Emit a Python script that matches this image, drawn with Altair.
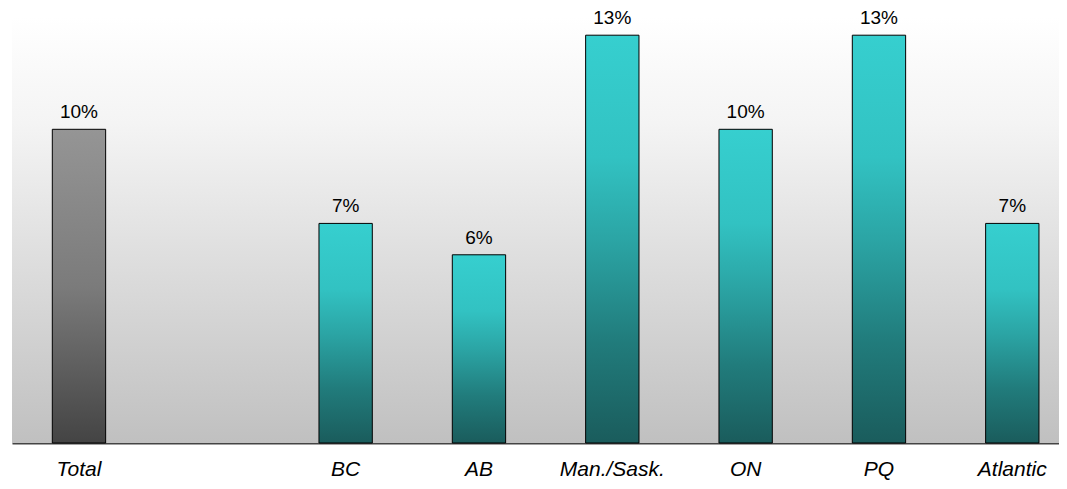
import altair as alt
import pandas as pd

categories = ["Total", "_gap", "BC", "AB", "Man./Sask.", "ON", "PQ", "Atlantic"]
bar_categories = ["Total", "BC", "AB", "Man./Sask.", "ON", "PQ", "Atlantic"]
values = [10, 7, 6, 13, 10, 13, 7]
labels = ["10%", "7%", "6%", "13%", "10%", "13%", "7%"]
kinds = ["total", "region", "region", "region", "region", "region", "region"]

df = pd.DataFrame({"cat": bar_categories, "value": values, "label": labels, "kind": kinds})

W = 1047
H = 426

x_scale = alt.Scale(domain=categories, paddingInner=0.6, paddingOuter=0.2263, align=0.668)
y_scale = alt.Scale(domain=[0, 13.58], nice=False)

x_enc = alt.X("cat:N", scale=x_scale, sort=categories,
              axis=alt.Axis(title=None, ticks=False, domain=True, domainColor="#444444",
                            domainWidth=2, labelAngle=0, labelFont="Liberation Sans",
                            labelFontStyle="italic", labelFontSize=21, labelColor="#000000",
                            labelBaseline="alphabetic", labelPadding=32,
                            labelExpr="indexof(datum.value, '_') == 0 ? '' : datum.value"))
y_enc = alt.Y("value:Q", scale=y_scale, axis=None)

bg_grad = alt.LinearGradient(gradient="linear", x1=0, x2=0, y1=0, y2=1,
                             stops=[alt.GradientStop(color="#FFFFFF", offset=0),
                                    alt.GradientStop(color="#F4F4F4", offset=0.25),
                                    alt.GradientStop(color="#C0C0C0", offset=1)])
teal_grad = alt.LinearGradient(gradient="linear", x1=0, x2=0, y1=0, y2=1,
                               stops=[alt.GradientStop(color="#36CFCF", offset=0),
                                      alt.GradientStop(color="#32C2C2", offset=0.3),
                                      alt.GradientStop(color="#2BA5A5", offset=0.5),
                                      alt.GradientStop(color="#217C7C", offset=0.75),
                                      alt.GradientStop(color="#1A5C5C", offset=1)])
gray_grad = alt.LinearGradient(gradient="linear", x1=0, x2=0, y1=0, y2=1,
                               stops=[alt.GradientStop(color="#959595", offset=0),
                                      alt.GradientStop(color="#7B7B7B", offset=0.5),
                                      alt.GradientStop(color="#444444", offset=1)])

bg = alt.Chart(df).mark_rect(fill=bg_grad, strokeWidth=0).encode(
    x=alt.value(0), x2=alt.value(W + 20), y=alt.value(0), y2=alt.value(H)
).transform_filter(alt.datum.cat == "Total")

base = alt.Chart(df)
total_bars = base.transform_filter(alt.datum.kind == "total").mark_bar(
    fill=gray_grad, stroke="#000000", strokeWidth=1).encode(x=x_enc, y=y_enc)
region_bars = base.transform_filter(alt.datum.kind == "region").mark_bar(
    fill=teal_grad, stroke="#000000", strokeWidth=1).encode(x=x_enc, y=y_enc)
text = base.mark_text(font="Liberation Sans", fontSize=19, color="#000000",
                      baseline="bottom", dy=-7).encode(x=x_enc, y=y_enc, text="label:N")

chart = alt.layer(bg, total_bars, region_bars, text).properties(
    width=W, height=H,
    padding={"left": 4, "top": 9, "right": 0, "bottom": 38},
    autosize=alt.AutoSizeParams(type="none"),
).configure_view(strokeWidth=0).configure(background="#FFFFFF")

chart.save("out.html", embed_options={"renderer": "svg", "actions": False})
